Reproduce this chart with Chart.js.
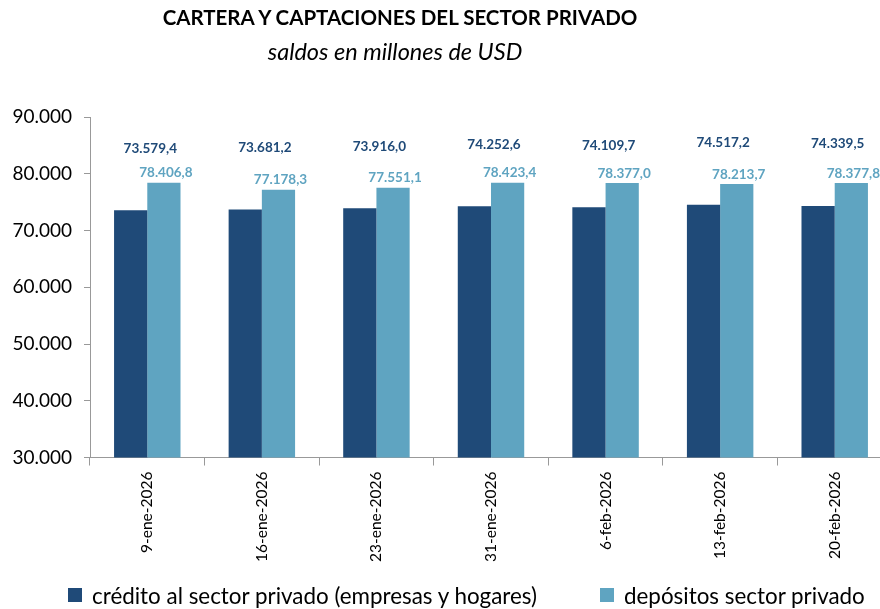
<!DOCTYPE html>
<html>
<head>
<meta charset="utf-8">
<script src="https://cdn.jsdelivr.net/npm/chart.js@4.4.1/dist/chart.umd.min.js"></script>
<style>
  html, body { margin: 0; padding: 0; background: #fff; overflow: hidden; width: 880px; height: 609px; }
  #wrap { position: absolute; left: 0; top: 0; width: 892px; height: 609px; }
  .t { position: absolute; font-family: Lato, "Open Sans", sans-serif; color: #000; white-space: nowrap; transform: translateX(-50%); }
  #title { left: 400px; top: 5px; font-size: 20.5px; font-weight: bold; }
  #sub { left: 395px; top: 37px; font-size: 23.5px; font-style: italic; }
  .lg { position: absolute; top: 583px; height: 24px; display: flex; align-items: center; font-family: Lato, "Open Sans", sans-serif; font-size: 22.4px; color: #000; white-space: nowrap; }
  .lg span.box { display: inline-block; width: 14px; height: 14px; margin-right: 10px; }
</style>
</head>
<body>
<div id="wrap"><canvas id="c"></canvas></div>
<div class="t" id="title">CARTERA Y CAPTACIONES DEL SECTOR PRIVADO</div>
<div class="t" id="sub">saldos en millones de USD</div>
<div class="lg" id="lg0" style="left:68px"></div>
<div class="lg" id="lg1" style="left:600px"></div>
<script>
const categories = ["9-ene-2026", "16-ene-2026", "23-ene-2026", "31-ene-2026", "6-feb-2026", "13-feb-2026", "20-feb-2026"];
const credito = [73579.4, 73681.2, 73916.0, 74252.6, 74109.7, 74517.2, 74339.5];
const depositos = [78406.8, 77178.3, 77551.1, 78423.4, 78377.0, 78213.7, 78377.8];
const seriesNames = ["crédito al sector privado (empresas y hogares)", "depósitos sector privado"];
const yTicks = [30000, 40000, 50000, 60000, 70000, 80000, 90000];

const DARK = "#1F4A78";
const LIGHT = "#5FA4C1";
const FONT = "Lato, 'Open Sans', sans-serif";

function fmtThousands(v) {
  return Math.round(v).toString().replace(/\B(?=(\d{3})+(?!\d))/g, ".");
}
function fmtVal(v) {
  const [i, d] = v.toFixed(1).split(".");
  return fmtThousands(+i) + "," + d;
}

const labelPlugin = {
  id: "valueLabels",
  afterDatasetsDraw(chart) {
    const ctx = chart.ctx;
    ctx.save();
    ctx.font = "bold 13.5px " + FONT;
    ctx.textAlign = "center";
    ctx.textBaseline = "bottom";
    chart.data.datasets.forEach((ds, di) => {
      const meta = chart.getDatasetMeta(di);
      meta.data.forEach((bar, i) => {
        const txt = fmtVal(ds.data[i]);
        if (di === 0) {
          ctx.fillStyle = DARK;
          ctx.fillText(txt, bar.x + bar.width / 2 + 3, bar.y - 55);
        } else {
          ctx.fillStyle = LIGHT;
          ctx.fillText(txt, bar.x + 2, bar.y - 3);
        }
      });
    });
    ctx.restore();
  }
};

const chart = new Chart(document.getElementById("c"), {
  type: "bar",
  data: {
    labels: categories,
    datasets: [
      { label: seriesNames[0], data: credito, backgroundColor: DARK, borderWidth: 0, categoryPercentage: 0.58, barPercentage: 1.0 },
      { label: seriesNames[1], data: depositos, backgroundColor: LIGHT, borderWidth: 0, categoryPercentage: 0.58, barPercentage: 1.0 }
    ]
  },
  options: {
    responsive: true,
    maintainAspectRatio: false,
    animation: false,
    layout: { padding: { top: 117, left: 2, right: 0, bottom: 41 } },
    plugins: {
      title: { display: false },
      tooltip: { enabled: false },
      legend: { display: false }
    },
    scales: {
      x: {
        offset: true,
        grid: { display: true, offset: true, drawOnChartArea: false, tickLength: 8, color: "#999" },
        border: { display: true, color: "#999", width: 1 },
        ticks: { font: { family: FONT, size: 15.5 }, color: "#000", maxRotation: 90, minRotation: 90, padding: 6 }
      },
      y: {
        min: 30000,
        max: 90000,
        afterBuildTicks(axis) { axis.ticks = yTicks.map(v => ({ value: v })); },
        afterFit(axis) { axis.width = 88; },
        grid: { display: true, drawOnChartArea: false, tickLength: 6, color: "#999" },
        border: { display: true, color: "#999", width: 1 },
        ticks: { font: { family: FONT, size: 19 }, color: "#000", padding: 12, callback: v => fmtThousands(v) }
      }
    }
  },
  plugins: [labelPlugin]
});

// HTML legend built from the chart's datasets
chart.data.datasets.forEach((ds, i) => {
  const el = document.getElementById("lg" + i);
  const box = document.createElement("span");
  box.className = "box";
  box.style.background = ds.backgroundColor;
  const txt = document.createElement("span");
  txt.textContent = ds.label;
  el.appendChild(box);
  el.appendChild(txt);
});
</script>
</body>
</html>
